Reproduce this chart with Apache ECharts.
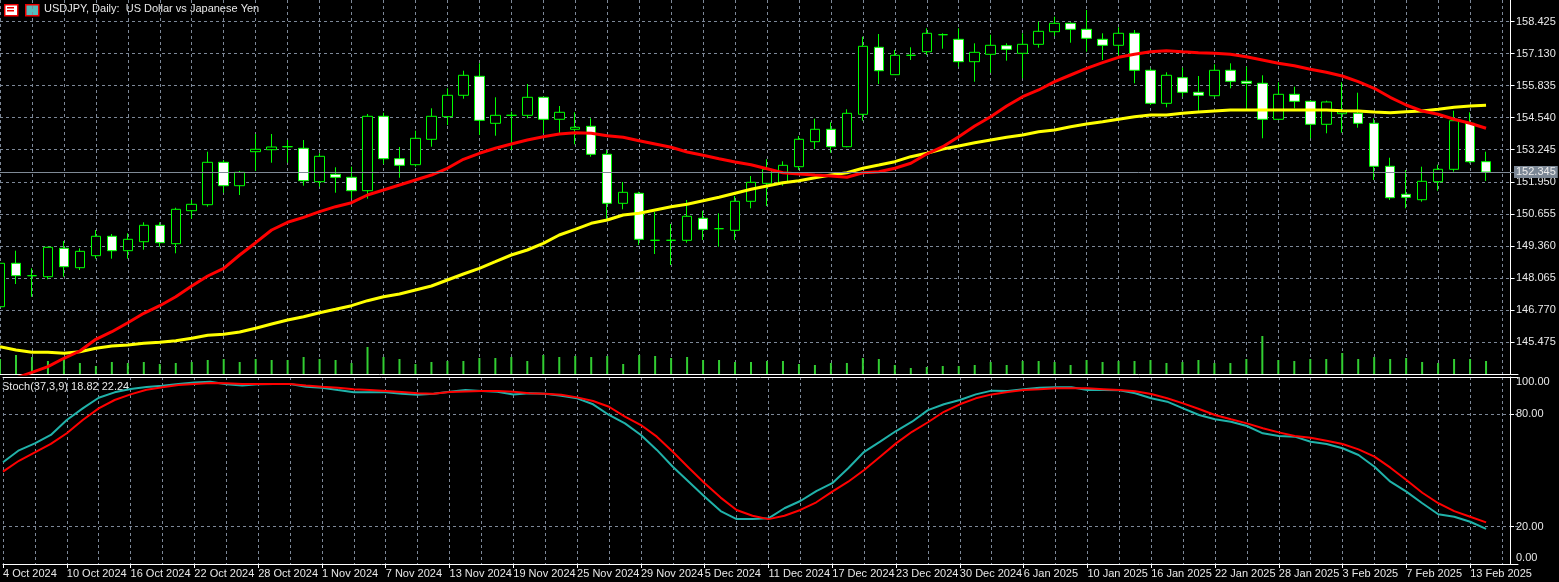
<!DOCTYPE html>
<html><head><meta charset="utf-8">
<script src="https://cdn.jsdelivr.net/npm/echarts@6/dist/echarts.min.js"></script>
<style>html,body{margin:0;padding:0;background:#000;}#c{width:1559px;height:582px;}</style>
</head><body><div id="c"></div>
<script>
const dates = ['4 Oct 2024','7 Oct 2024','8 Oct 2024','9 Oct 2024','10 Oct 2024','11 Oct 2024','14 Oct 2024','15 Oct 2024','16 Oct 2024','17 Oct 2024','18 Oct 2024','21 Oct 2024','22 Oct 2024','23 Oct 2024','24 Oct 2024','25 Oct 2024','28 Oct 2024','29 Oct 2024','30 Oct 2024','31 Oct 2024','1 Nov 2024','4 Nov 2024','5 Nov 2024','6 Nov 2024','7 Nov 2024','8 Nov 2024','11 Nov 2024','12 Nov 2024','13 Nov 2024','14 Nov 2024','15 Nov 2024','18 Nov 2024','19 Nov 2024','20 Nov 2024','21 Nov 2024','22 Nov 2024','25 Nov 2024','26 Nov 2024','27 Nov 2024','28 Nov 2024','29 Nov 2024','2 Dec 2024','3 Dec 2024','4 Dec 2024','5 Dec 2024','6 Dec 2024','9 Dec 2024','10 Dec 2024','11 Dec 2024','12 Dec 2024','13 Dec 2024','16 Dec 2024','17 Dec 2024','18 Dec 2024','19 Dec 2024','20 Dec 2024','23 Dec 2024','24 Dec 2024','26 Dec 2024','27 Dec 2024','30 Dec 2024','31 Dec 2024','2 Jan 2025','3 Jan 2025','6 Jan 2025','7 Jan 2025','8 Jan 2025','9 Jan 2025','10 Jan 2025','13 Jan 2025','14 Jan 2025','15 Jan 2025','16 Jan 2025','17 Jan 2025','20 Jan 2025','21 Jan 2025','22 Jan 2025','23 Jan 2025','24 Jan 2025','27 Jan 2025','28 Jan 2025','29 Jan 2025','30 Jan 2025','31 Jan 2025','3 Feb 2025','4 Feb 2025','5 Feb 2025','6 Feb 2025','7 Feb 2025','10 Feb 2025','11 Feb 2025','12 Feb 2025','13 Feb 2025','14 Feb 2025'];
// [open, close, low, high]
const ohlc = [
[146.902,148.656,146.769,148.870],[148.656,148.155,147.819,149.165],[148.155,148.155,147.306,148.454],[148.114,149.302,148.009,149.326],[149.262,148.518,148.114,149.557],
[148.478,149.140,148.385,149.262],[148.963,149.747,148.842,150.001],[149.747,149.165,148.842,149.839],[149.165,149.625,148.842,149.868],[149.528,150.191,149.205,150.312],
[150.191,149.488,149.326,150.312],[149.448,150.837,149.060,150.902],[150.781,151.039,150.458,151.213],[151.023,152.736,150.943,153.165],[152.736,151.791,151.508,152.829],
[151.791,152.332,151.415,152.385],[153.165,153.262,152.385,153.880],[153.246,153.355,152.720,153.880],[153.367,153.367,152.720,153.637],[153.302,151.993,151.791,153.637],
[151.953,152.979,151.751,153.100],[152.252,152.130,151.508,152.534],[152.130,151.589,151.282,152.559],[151.589,154.595,151.266,154.688],[154.595,152.882,152.668,154.740],
[152.882,152.615,152.114,153.355],[152.639,153.706,152.559,154.013],[153.666,154.595,153.367,154.918],[154.579,155.444,154.244,155.726],[155.444,156.252,155.306,156.437],
[156.211,154.433,153.840,156.736],[154.312,154.635,153.811,155.363],[154.635,154.635,153.233,154.781],[154.635,155.363,154.514,155.900],[155.363,154.474,153.908,155.387],
[154.474,154.757,153.908,155.011],[154.070,154.151,153.464,154.757],[154.191,153.060,152.963,154.514],[153.060,151.080,150.405,153.233],[151.080,151.524,150.837,151.941],
[151.484,149.625,149.395,151.549],[149.585,149.585,149.032,150.728],[149.585,149.585,148.587,150.244],[149.585,150.555,149.488,151.213],[150.474,150.029,149.597,150.781],
[150.054,150.054,149.326,150.676],[149.989,151.161,149.597,151.375],[151.161,151.928,150.878,152.183],[151.888,152.454,150.971,152.858],[151.928,152.615,151.791,152.777],
[152.559,153.666,152.425,153.799],[153.569,154.070,153.274,154.498],[154.070,153.367,153.124,154.353],[153.367,154.716,153.343,154.878],[154.676,157.423,154.417,157.811],
[157.383,156.437,155.900,157.920],[156.276,157.060,156.276,157.274],[157.060,157.060,156.870,157.383],[157.205,157.949,157.072,158.151],[157.892,157.892,157.326,157.949],
[157.706,156.801,156.599,158.151],[156.801,157.181,155.993,157.544],[157.100,157.464,156.357,157.892],[157.448,157.302,156.842,157.544],[157.140,157.504,156.130,157.949],
[157.504,158.029,157.367,158.417],[158.013,158.353,157.839,158.619],[158.353,158.110,157.569,158.393],[158.110,157.747,157.205,158.890],[157.706,157.464,156.870,157.949],
[157.464,157.949,157.060,158.191],[157.949,156.454,155.928,158.082],[156.454,155.120,155.052,156.534],[155.120,156.252,154.959,156.373],[156.155,155.565,155.387,156.559],
[155.565,155.444,154.821,156.223],[155.427,156.454,155.363,156.696],[156.454,156.009,155.726,156.736],[156.009,155.928,154.850,156.599],[155.928,154.474,153.706,156.252],
[154.474,155.484,154.446,155.969],[155.484,155.201,154.918,155.791],[155.201,154.272,153.706,155.254],[154.272,155.173,153.908,155.225],[154.700,154.781,153.932,155.969],
[154.716,154.312,154.134,155.549],[154.312,152.575,152.021,154.514],[152.575,151.306,151.213,152.922],[151.443,151.322,150.878,152.425],[151.225,151.969,151.145,152.559],
[151.953,152.454,151.589,152.639],[152.454,154.417,152.357,154.821],[154.312,152.761,152.696,154.757],[152.761,152.345,151.981,153.165]];
const maRed = [143.738,144.021,144.252,144.478,144.818,145.112,145.585,145.892,146.256,146.636,146.943,147.306,147.738,148.142,148.454,148.991,149.488,150.001,150.312,150.514,150.741,150.943,151.104,151.415,151.617,151.819,152.021,152.223,152.494,152.858,153.100,153.302,153.476,153.637,153.771,153.880,153.932,153.908,153.811,153.747,153.609,153.476,153.343,153.153,153.019,152.882,152.749,152.639,152.478,152.316,152.264,152.223,152.183,152.130,152.316,152.357,152.494,152.696,153.072,153.367,153.771,154.203,154.579,155.011,155.387,155.658,155.993,156.264,156.534,156.761,156.979,157.100,157.205,157.246,157.205,157.165,157.140,157.100,157.003,156.870,156.736,156.639,156.494,156.373,156.223,155.993,155.726,155.363,155.052,154.809,154.676,154.474,154.312,154.110];
const maYellow = [145.286,145.153,145.060,145.060,145.019,145.084,145.221,145.314,145.355,145.423,145.464,145.529,145.625,145.747,145.787,145.880,146.029,146.203,146.365,146.498,146.660,146.797,146.943,147.145,147.306,147.415,147.577,147.738,147.981,148.224,148.454,148.720,148.991,149.193,149.464,149.799,150.029,150.272,150.405,150.607,150.676,150.809,150.943,151.039,151.185,151.322,151.484,151.646,151.779,151.912,151.993,152.114,152.223,152.316,152.494,152.627,152.761,152.963,153.100,153.274,153.395,153.528,153.637,153.747,153.839,153.973,154.042,154.175,154.284,154.377,154.474,154.579,154.648,154.648,154.716,154.769,154.809,154.850,154.850,154.850,154.850,154.850,154.850,154.850,154.821,154.809,154.769,154.740,154.781,154.809,154.878,154.959,155.011,155.039];
const volume = [15,19,17,13,16,11,8,12,11,12,10,11,12,14,15,12,15,14,14,17,15,14,11,27,17,15,10,12,13,13,16,16,17,13,19,17,18,17,18,10,19,18,16,17,14,14,12,12,13,13,10,9,11,11,16,15,9,6,7,8,8,9,12,9,13,13,12,9,14,12,13,13,14,11,12,14,11,11,15,38,14,13,15,15,21,15,17,15,16,12,11,15,15,13];
const stochMain = [54.4,60.8,64.5,69,77,83.2,88.9,91.8,93.6,94.6,95.3,96.3,97,97.5,96.1,95.5,96.1,96.3,96.3,94.8,94.3,93,91.8,91.8,91.8,91.1,90.5,91,92.1,93,92.5,92.1,90.7,91.3,91,90,88.6,85.4,79.7,75.2,69,61,52,44,36,28.3,24,24,24.4,29.8,33.7,39,43.2,51.2,60,65.4,71.1,76.1,82.3,85.4,87.7,90.7,92.7,92.5,93.4,94.3,94.5,94.5,93,93,92.9,91.3,88.6,86.8,83.2,79.7,77.4,76.1,73.8,69.9,68.4,68.1,65.4,64.2,61.9,58.3,52,44,38.7,32.5,26.6,25.3,22.6,18.82];
const stochSignal = [49.4,55.2,59.7,64.2,69.9,77,83.2,87.7,90.7,93.2,94.5,95.7,96.3,96.8,96.6,96.3,96.3,96.3,96.3,95.5,94.8,94.3,93.4,93,92.5,92,91.3,91,92,92.3,92.5,92.5,92.1,91.3,91,90.5,89.1,87.2,84.1,78.8,74.3,68.1,60,51.5,43.2,35.5,28.9,25.8,24,25.8,28.9,33,38.7,44,50.3,57.4,64.5,70.7,75.8,81.4,85.4,88.6,90.7,92,93,93.4,94,94,94,93.5,93,92.4,90.9,88.6,85.9,82.9,79.7,77.4,75.2,72.6,70.4,68.4,67.5,65.9,64.2,61.3,57.4,51.5,44.9,38.1,32.5,28.3,25.3,22.24];
const priceTicks = [145.475,146.770,148.065,149.360,150.655,151.950,153.245,154.540,155.835,157.130,158.425];
const stochLabels = [0,20,80,100];
const stochGrid = [20,80];
const lastPrice = 152.345;
const title = 'USDJPY, Daily:  US Dollar vs Japanese Yen';
const stochTitle = 'Stoch(37,3,9) 18.82 22.24';

const cats = dates.concat(['','']);
const GRIDC = '#7d8898';
const FONT = 'Liberation Sans';
const lab = {color:'#e8e8e8', fontFamily:FONT, fontSize:11};
const vSplit = {show:true, interval:(i)=>i%2===0, lineStyle:{color:GRIDC, type:[3,3], width:1}};
const chart = echarts.init(document.getElementById('c'));
chart.setOption({
  backgroundColor:'#000', animation:false,
  grid:[{left:-2, right:41, top:0, height:374},{left:-2, right:41, top:377, height:187}],
  xAxis:[
    {type:'category', gridIndex:0, data:cats, boundaryGap:false, axisLabel:{show:false}, axisTick:{show:false},
     axisLine:{lineStyle:{color:'#fff', width:1}}, splitLine:vSplit},
    {type:'category', gridIndex:1, data:cats, boundaryGap:false,
     axisLine:{lineStyle:{color:'#fff', width:1}},
     axisTick:{show:true, interval:(i)=>i%4===0 && i<94, length:4, lineStyle:{color:'#fff'}},
     axisLabel:Object.assign({interval:(i)=>i%4===0 && i<94, align:'left', margin:4}, lab),
     splitLine:vSplit},
    {type:'category', gridIndex:1, data:cats, boundaryGap:false, position:'top', axisLabel:{show:false}, axisTick:{show:false},
     axisLine:{lineStyle:{color:'#fff', width:1}}}
  ],
  yAxis:[
    {type:'value', gridIndex:0, position:'right', offset:-8, min:144.183, max:159.294, scale:true,
     axisLine:{show:true, lineStyle:{color:'#fff'}}, axisTick:{show:true, length:4, customValues:priceTicks, lineStyle:{color:'#fff'}},
     axisLabel:Object.assign({customValues:priceTicks, formatter:(v)=>v.toFixed(3), margin:6}, lab),
     splitLine:{show:true, lineStyle:{color:GRIDC, type:[3,3]}}},
    {type:'value', gridIndex:1, position:'right', offset:-8, min:0, max:100,
     axisLine:{show:true, lineStyle:{color:'#fff'}}, axisTick:{show:true, length:4, customValues:stochGrid, lineStyle:{color:'#fff'}},
     axisLabel:Object.assign({customValues:stochLabels, margin:6,
       formatter:(v)=> v===100 ? '{t|100.00}' : (v===0 ? '{b|0.00}' : v.toFixed(2)),
       rich:{t:{color:'#e8e8e8', fontFamily:FONT, fontSize:11, padding:[10,0,0,0]}, b:{color:'#e8e8e8', fontFamily:FONT, fontSize:11, padding:[0,0,12,0]}}}, lab),
     splitLine:{show:true, lineStyle:{color:GRIDC, type:[3,3]}}},
    {type:'value', gridIndex:0, min:0, max:374, show:false, splitLine:{show:false}}
  ],
  series:[
    {type:'bar', name:'vol', xAxisIndex:0, yAxisIndex:2, data:volume, barWidth:2, itemStyle:{color:'#32cd32'}, silent:true},
    {type:'line', name:'ma1', xAxisIndex:0, yAxisIndex:0, data:maYellow, symbol:'none', lineStyle:{color:'#ffff00', width:3}},
    {type:'line', name:'ma2', xAxisIndex:0, yAxisIndex:0, data:maRed, symbol:'none', lineStyle:{color:'#ff0000', width:3}},
    {type:'candlestick', xAxisIndex:0, yAxisIndex:0, data:ohlc, barWidth:10,
     itemStyle:{color:'#000', color0:'#fff', borderColor:'#00ff00', borderColor0:'#00ff00', borderWidth:1},
     markLine:{silent:true, symbol:'none', data:[{yAxis:lastPrice}], lineStyle:{color:'#7f8a96', type:'solid', width:1},
       label:{position:'end', distance:-4, formatter:()=>lastPrice.toFixed(3), backgroundColor:'#7b8795', color:'#eee', fontFamily:FONT, fontSize:11, padding:[1,2,0,2]}}},
    {type:'line', xAxisIndex:1, yAxisIndex:1, data:stochMain, symbol:'none', lineStyle:{color:'#20b2aa', width:2}},
    {type:'line', xAxisIndex:1, yAxisIndex:1, data:stochSignal, symbol:'none', lineStyle:{color:'#ff0000', width:2}}
  ],
  graphic:[
    {type:'rect', left:4, top:4, shape:{width:13, height:11}, style:{fill:'#fff', stroke:'#e00', lineWidth:1.5}},
    {type:'rect', left:7, top:7, shape:{width:7, height:1.5}, style:{fill:'#e00'}},
    {type:'rect', left:7, top:10, shape:{width:7, height:1.5}, style:{fill:'#e00'}},
    {type:'rect', left:25, top:4, shape:{width:13, height:11}, style:{fill:'#5bb', stroke:'#e00', lineWidth:1.5}},
    {type:'text', left:44, top:3, style:{text:title, fill:'#e8e8e8', font:'11px "Liberation Sans"'}},
    {type:'text', left:2, top:381, style:{text:stochTitle, fill:'#e8e8e8', font:'11px "Liberation Sans"'}}
  ]
});
</script></body></html>
